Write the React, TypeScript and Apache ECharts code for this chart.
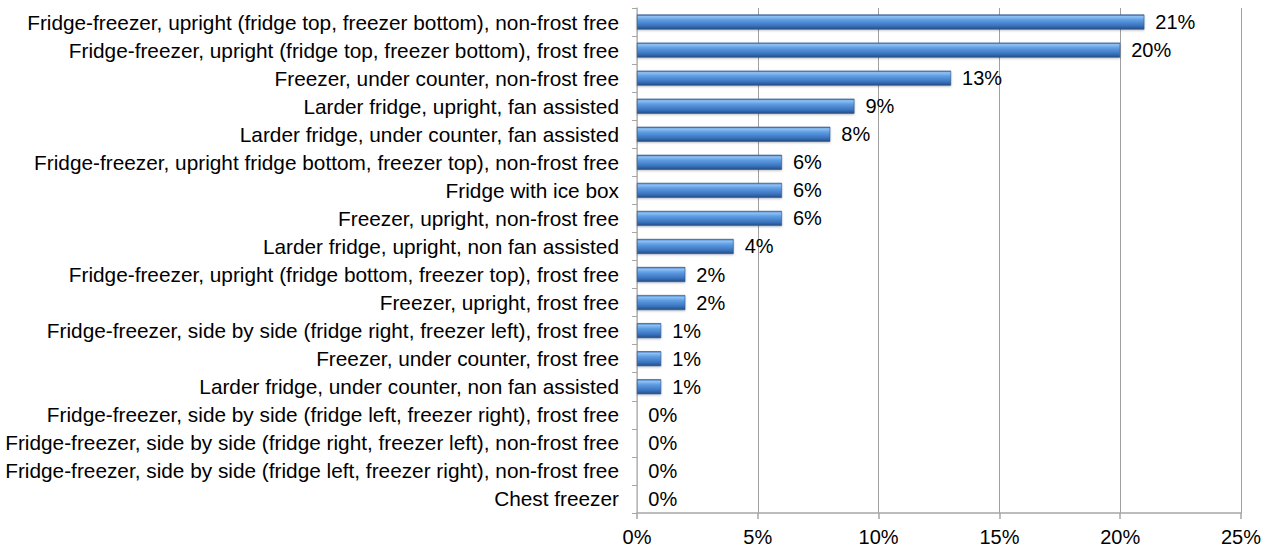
import React, { useEffect, useRef } from "react";
import * as echarts from "echarts";

const categories = [
  "Fridge-freezer, upright (fridge top, freezer bottom), non-frost free",
  "Fridge-freezer, upright (fridge top, freezer bottom), frost free",
  "Freezer, under counter, non-frost free",
  "Larder fridge, upright, fan assisted",
  "Larder fridge, under counter, fan assisted",
  "Fridge-freezer, upright fridge bottom, freezer top), non-frost free",
  "Fridge with ice box",
  "Freezer, upright, non-frost free",
  "Larder fridge, upright, non fan assisted",
  "Fridge-freezer, upright (fridge bottom, freezer top), frost free",
  "Freezer, upright, frost free",
  "Fridge-freezer, side by side (fridge right, freezer left), frost free",
  "Freezer, under counter, frost free",
  "Larder fridge, under counter, non fan assisted",
  "Fridge-freezer, side by side (fridge left, freezer right), frost free",
  "Fridge-freezer, side by side (fridge right, freezer left), non-frost free",
  "Fridge-freezer, side by side (fridge left, freezer right), non-frost free",
  "Chest freezer",
];

const shares = [21, 20, 13, 9, 8, 6, 6, 6, 4, 2, 2, 1, 1, 1, 0, 0, 0, 0];

const xTicks = [0, 5, 10, 15, 20, 25];

const FONT = "'Liberation Sans', Arial, sans-serif";

export default function App() {
  const ref = useRef<HTMLDivElement>(null);
  useEffect(() => {
    document.body.style.margin = "0";
    if (!ref.current) return;
    const chart = echarts.init(ref.current, null, { renderer: "svg" });
    chart.setOption({
      animation: false,
      backgroundColor: "#ffffff",
      textStyle: { fontFamily: FONT },
      grid: { left: 637, right: 37, top: 8, bottom: 35, containLabel: false },
      xAxis: {
        type: "value",
        min: xTicks[0],
        max: xTicks[xTicks.length - 1],
        interval: 5,
        axisLine: { show: true, lineStyle: { color: "#a6a6a6", width: 1.5 } },
        axisTick: { show: true, length: 6, lineStyle: { color: "#a6a6a6", width: 1.5 } },
        splitLine: { show: true, lineStyle: { color: "#a0a0a0", width: 1 } },
        axisLabel: {
          color: "#000",
          fontSize: 20,
          fontFamily: FONT,
          margin: 14,
          formatter: (v: number) => `${v}%`,
        },
      },
      yAxis: {
        type: "category",
        data: categories,
        inverse: true,
        axisLine: { show: true, lineStyle: { color: "#bfbfbf", width: 1.5 } },
        axisTick: { show: true, length: 5, lineStyle: { color: "#a6a6a6", width: 1 } },
        axisLabel: { color: "#000", fontSize: 20.8, fontFamily: FONT, margin: 18 },
      },
      series: [
        {
          type: "bar",
          data: shares,
          barWidth: 15,
          itemStyle: {
            color: new echarts.graphic.LinearGradient(0, 0, 0, 1, [
              { offset: 0, color: "#3a6cad" },
              { offset: 0.12, color: "#8fc3f5" },
              { offset: 0.35, color: "#5f9de2" },
              { offset: 0.75, color: "#3a74bf" },
              { offset: 1, color: "#244d85" },
            ]),
            borderColor: "#2a558f",
            borderWidth: 0.6,
            shadowColor: "rgba(0,0,0,0.25)",
            shadowBlur: 2,
            shadowOffsetY: 1,
          },
          label: {
            show: true,
            position: "right",
            distance: 11,
            color: "#000",
            fontSize: 20,
            fontFamily: FONT,
            formatter: (p: any) => `${p.value}%`,
          },
        },
      ],
    });
    return () => chart.dispose();
  }, []);
  return <div ref={ref} style={{ width: 1278, height: 548 }} />;
}
